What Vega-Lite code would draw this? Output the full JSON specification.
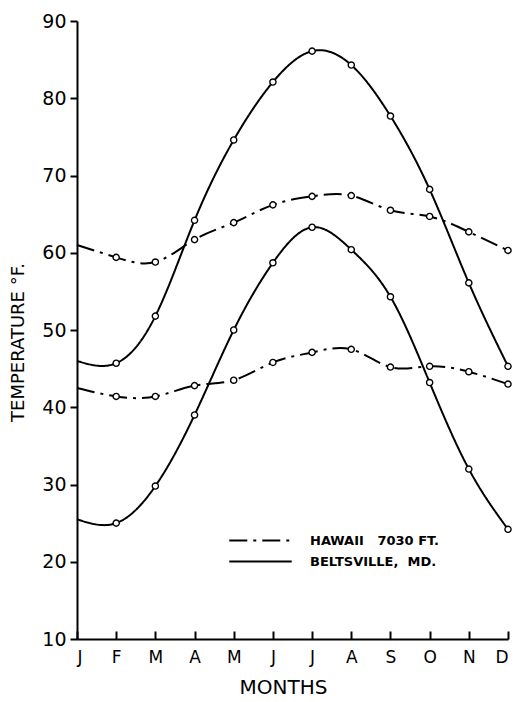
{
  "$schema": "https://vega.github.io/schema/vega-lite/v6.json",
  "width": 431,
  "height": 618,
  "autosize": {"type": "none"},
  "padding": {"left": 77, "top": 21, "right": 7, "bottom": 63},
  "background": "white",
  "config": {
    "view": {"stroke": null},
    "font": "DejaVu Sans",
    "axis": {"domainColor": "black", "domainWidth": 2, "tickColor": "black", "tickWidth": 2, "labelColor": "black", "titleColor": "black", "grid": false}
  },
  "data": {"values": [
    {"m": 1, "station": "HAWAII\u00a0\u00a0\u00a07030 FT.", "series": "hmax", "t": 61.0},
    {"m": 2, "station": "HAWAII\u00a0\u00a0\u00a07030 FT.", "series": "hmax", "t": 59.4},
    {"m": 3, "station": "HAWAII\u00a0\u00a0\u00a07030 FT.", "series": "hmax", "t": 58.8},
    {"m": 4, "station": "HAWAII\u00a0\u00a0\u00a07030 FT.", "series": "hmax", "t": 61.7},
    {"m": 5, "station": "HAWAII\u00a0\u00a0\u00a07030 FT.", "series": "hmax", "t": 63.9},
    {"m": 6, "station": "HAWAII\u00a0\u00a0\u00a07030 FT.", "series": "hmax", "t": 66.2},
    {"m": 7, "station": "HAWAII\u00a0\u00a0\u00a07030 FT.", "series": "hmax", "t": 67.3},
    {"m": 8, "station": "HAWAII\u00a0\u00a0\u00a07030 FT.", "series": "hmax", "t": 67.4},
    {"m": 9, "station": "HAWAII\u00a0\u00a0\u00a07030 FT.", "series": "hmax", "t": 65.5},
    {"m": 10, "station": "HAWAII\u00a0\u00a0\u00a07030 FT.", "series": "hmax", "t": 64.7},
    {"m": 11, "station": "HAWAII\u00a0\u00a0\u00a07030 FT.", "series": "hmax", "t": 62.7},
    {"m": 12, "station": "HAWAII\u00a0\u00a0\u00a07030 FT.", "series": "hmax", "t": 60.3},
    {"m": 1, "station": "HAWAII\u00a0\u00a0\u00a07030 FT.", "series": "hmin", "t": 42.5},
    {"m": 2, "station": "HAWAII\u00a0\u00a0\u00a07030 FT.", "series": "hmin", "t": 41.4},
    {"m": 3, "station": "HAWAII\u00a0\u00a0\u00a07030 FT.", "series": "hmin", "t": 41.4},
    {"m": 4, "station": "HAWAII\u00a0\u00a0\u00a07030 FT.", "series": "hmin", "t": 42.8},
    {"m": 5, "station": "HAWAII\u00a0\u00a0\u00a07030 FT.", "series": "hmin", "t": 43.5},
    {"m": 6, "station": "HAWAII\u00a0\u00a0\u00a07030 FT.", "series": "hmin", "t": 45.8},
    {"m": 7, "station": "HAWAII\u00a0\u00a0\u00a07030 FT.", "series": "hmin", "t": 47.1},
    {"m": 8, "station": "HAWAII\u00a0\u00a0\u00a07030 FT.", "series": "hmin", "t": 47.5},
    {"m": 9, "station": "HAWAII\u00a0\u00a0\u00a07030 FT.", "series": "hmin", "t": 45.2},
    {"m": 10, "station": "HAWAII\u00a0\u00a0\u00a07030 FT.", "series": "hmin", "t": 45.3},
    {"m": 11, "station": "HAWAII\u00a0\u00a0\u00a07030 FT.", "series": "hmin", "t": 44.6},
    {"m": 12, "station": "HAWAII\u00a0\u00a0\u00a07030 FT.", "series": "hmin", "t": 43.0},
    {"m": 1, "station": "BELTSVILLE,\u00a0\u00a0MD.", "series": "bmax", "t": 46.0},
    {"m": 2, "station": "BELTSVILLE,\u00a0\u00a0MD.", "series": "bmax", "t": 45.7},
    {"m": 3, "station": "BELTSVILLE,\u00a0\u00a0MD.", "series": "bmax", "t": 51.8},
    {"m": 4, "station": "BELTSVILLE,\u00a0\u00a0MD.", "series": "bmax", "t": 64.2},
    {"m": 5, "station": "BELTSVILLE,\u00a0\u00a0MD.", "series": "bmax", "t": 74.6},
    {"m": 6, "station": "BELTSVILLE,\u00a0\u00a0MD.", "series": "bmax", "t": 82.1},
    {"m": 7, "station": "BELTSVILLE,\u00a0\u00a0MD.", "series": "bmax", "t": 86.1},
    {"m": 8, "station": "BELTSVILLE,\u00a0\u00a0MD.", "series": "bmax", "t": 84.3},
    {"m": 9, "station": "BELTSVILLE,\u00a0\u00a0MD.", "series": "bmax", "t": 77.7},
    {"m": 10, "station": "BELTSVILLE,\u00a0\u00a0MD.", "series": "bmax", "t": 68.2},
    {"m": 11, "station": "BELTSVILLE,\u00a0\u00a0MD.", "series": "bmax", "t": 56.1},
    {"m": 12, "station": "BELTSVILLE,\u00a0\u00a0MD.", "series": "bmax", "t": 45.3},
    {"m": 1, "station": "BELTSVILLE,\u00a0\u00a0MD.", "series": "bmin", "t": 25.5},
    {"m": 2, "station": "BELTSVILLE,\u00a0\u00a0MD.", "series": "bmin", "t": 25.0},
    {"m": 3, "station": "BELTSVILLE,\u00a0\u00a0MD.", "series": "bmin", "t": 29.8},
    {"m": 4, "station": "BELTSVILLE,\u00a0\u00a0MD.", "series": "bmin", "t": 39.0},
    {"m": 5, "station": "BELTSVILLE,\u00a0\u00a0MD.", "series": "bmin", "t": 50.0},
    {"m": 6, "station": "BELTSVILLE,\u00a0\u00a0MD.", "series": "bmin", "t": 58.7},
    {"m": 7, "station": "BELTSVILLE,\u00a0\u00a0MD.", "series": "bmin", "t": 63.3},
    {"m": 8, "station": "BELTSVILLE,\u00a0\u00a0MD.", "series": "bmin", "t": 60.4},
    {"m": 9, "station": "BELTSVILLE,\u00a0\u00a0MD.", "series": "bmin", "t": 54.3},
    {"m": 10, "station": "BELTSVILLE,\u00a0\u00a0MD.", "series": "bmin", "t": 43.2},
    {"m": 11, "station": "BELTSVILLE,\u00a0\u00a0MD.", "series": "bmin", "t": 32.0},
    {"m": 12, "station": "BELTSVILLE,\u00a0\u00a0MD.", "series": "bmin", "t": 24.2}
  ]},
  "encoding": {
    "x": {
      "field": "m", "type": "quantitative",
      "scale": {"domain": [1, 12], "nice": false, "zero": false},
      "axis": {
        "values": [1,2,3,4,5,6,7,8,9,10,11,12],
        "labelExpr": "['J','F','M','A','M','J','J','A','S','O','N','D'][datum.value - 1]",
        "tickSize": -8, "labelPadding": 18, "labelFontSize": 17,
        "title": "MONTHS", "titleFontSize": 20, "titleFontWeight": "normal", "titlePadding": 12,
        "titleX": 206
      }
    },
    "y": {
      "field": "t", "type": "quantitative",
      "scale": {"domain": [10, 90], "nice": false, "zero": false},
      "axis": {
        "values": [10,20,30,40,50,60,70,80,90],
        "tickSize": 7, "labelPadding": 4, "labelFontSize": 19,
        "title": "TEMPERATURE °F.", "titleFontSize": 18, "titleFontWeight": "normal", "titlePadding": 14,
        "titleY": 321
      }
    }
  },
  "layer": [
    {
      "mark": {"type": "line", "interpolate": "natural", "color": "black", "strokeWidth": 2},
      "encoding": {
        "detail": {"field": "series"},
        "strokeDash": {
          "field": "station", "type": "nominal",
          "scale": {"domain": ["HAWAII\u00a0\u00a0\u00a07030 FT.", "BELTSVILLE,\u00a0\u00a0MD."], "range": [[18, 6, 3, 6], [1, 0]]},
          "legend": {
            "title": null, "orient": "none", "legendX": 151, "legendY": 509,
            "symbolType": "stroke", "symbolStrokeWidth": 2, "symbolSize": 3900, "symbolStrokeColor": "black",
            "labelFontSize": 13, "labelFontWeight": "bold", "labelColor": "black", "labelOffset": 17,
            "clipHeight": 21, "rowPadding": 0
          }
        }
      }
    },
    {
      "transform": [{"filter": "datum.m > 1"}],
      "mark": {"type": "point", "shape": "circle", "filled": true, "fill": "white", "stroke": "black", "strokeWidth": 1.4, "size": 38, "opacity": 1}
    }
  ]
}
